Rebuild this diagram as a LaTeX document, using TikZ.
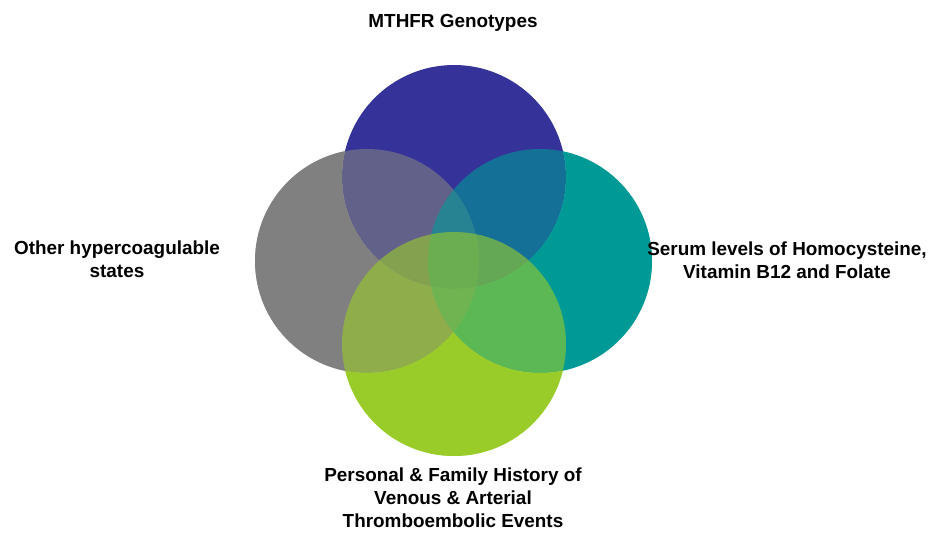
\documentclass[tikz,border=0pt]{standalone}
\usepackage{fontspec}
\setmainfont{Liberation Sans}
\definecolor{ctop}{RGB}{53,51,153}
\definecolor{cleft}{RGB}{128,128,128}
\definecolor{cright}{RGB}{0,154,150}
\definecolor{cbot}{RGB}{153,204,41}
\begin{document}
\begin{tikzpicture}[x=1pt,y=-1pt,
  lbl/.style={font=\bfseries\fontsize{18.9}{23}\selectfont, align=center, inner sep=0pt, text=black},
  mix/.style={fill opacity=0.6}]
\useasboundingbox (0,0) rectangle (931,533);
\def\R{112}
\coordinate (ct) at (454,177);
\coordinate (cl) at (367,261);
\coordinate (cr) at (540,261);
\coordinate (cb) at (454,344);
% top circle
\fill[ctop] (ct) circle[radius=\R];
% left circle
\begin{scope}[even odd rule]
  \clip (-10,-10) rectangle (941,543) (ct) circle[radius=\R];
  \fill[cleft] (cl) circle[radius=\R];
\end{scope}
\fill[cleft,mix] (cl) circle[radius=\R];
% right circle
\begin{scope}[even odd rule]
  \clip (-10,-10) rectangle (941,543) (ct) circle[radius=\R];
  \clip (-10,-10) rectangle (941,543) (cl) circle[radius=\R];
  \fill[cright] (cr) circle[radius=\R];
\end{scope}
\fill[cright,mix] (cr) circle[radius=\R];
% bottom circle
\begin{scope}[even odd rule]
  \clip (-10,-10) rectangle (941,543) (ct) circle[radius=\R];
  \clip (-10,-10) rectangle (941,543) (cl) circle[radius=\R];
  \clip (-10,-10) rectangle (941,543) (cr) circle[radius=\R];
  \fill[cbot] (cb) circle[radius=\R];
\end{scope}
\fill[cbot,mix] (cb) circle[radius=\R];
% labels
\node[lbl, anchor=base] (ttop) at (453,27) {MTHFR Genotypes};
\node[lbl, anchor=north] (tleft) at (117,241) {Other hypercoagulable\\states};
\node[lbl, anchor=north] (tright) at (787,242) {Serum levels of Homocysteine,\\Vitamin B12 and Folate};
\node[lbl, anchor=north] (tbot) at (453,468) {Personal \& Family History of\\Venous \& Arterial\\Thromboembolic Events};
\end{tikzpicture}
\end{document}
